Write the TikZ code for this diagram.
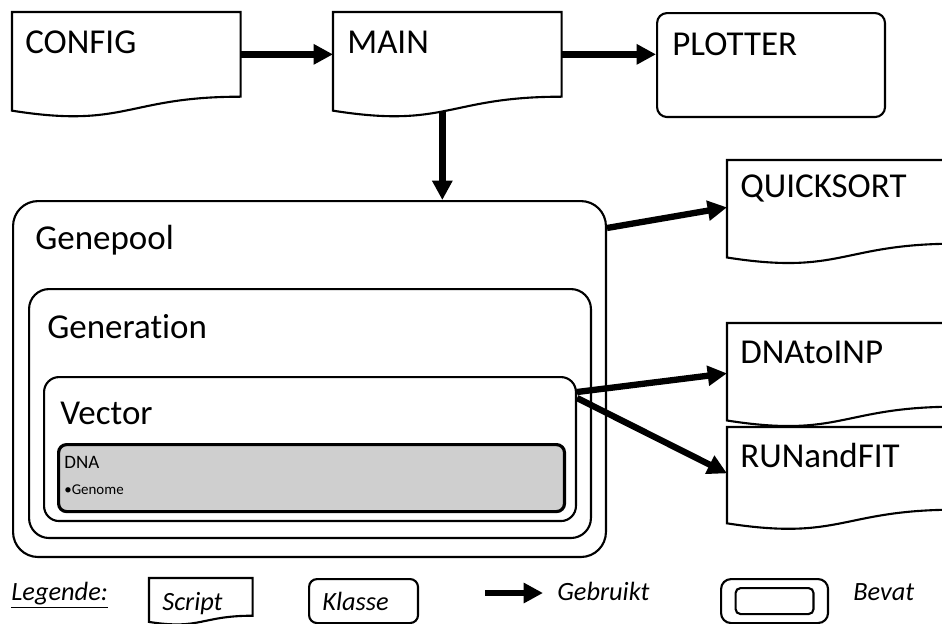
\documentclass[tikz,border=0pt]{standalone}
\usepackage{fontspec}
\setmainfont{Carlito}[Ligatures=NoCommon]
\usetikzlibrary{arrows.meta,calc}

\newcommand{\biglabel}{\fontsize{19.9pt}{23pt}\selectfont}
\newcommand{\leglabel}{\fontsize{15pt}{17pt}\selectfont\itshape}

\tikzset{
  outline/.style={line width=1.2pt},
  scriptbox/.style={anchor=north west,inner sep=0pt,minimum width=4.56cm},
  klassebox/.style={draw,outline,rounded corners=0.2cm,anchor=north west,inner sep=0pt},
  uses/.style={line width=3.6pt,-{Triangle[length=11pt,width=11pt]}},
  lbl/.style={anchor=base west,inner sep=0pt,font=\biglabel},
  legtext/.style={anchor=base west,inner sep=0pt,font=\leglabel},
}

\newcommand{\scriptshape}[1]{%
  \draw[outline] (#1.north west) -- (#1.north east) -- (#1.south east)
    .. controls (#1.south) and ($(#1.south)!0.38!180:(#1.north)$)
    .. ($(#1.south west)!0.165!180:(#1.north west)$) -- cycle;
}

\begin{document}
\begin{tikzpicture}[x=0.02cm,y=-0.02cm]
\useasboundingbox (0,0) rectangle (942,623);
\clip (0,0) rectangle (942,623);

\node[scriptbox,minimum height=1.68cm] (config) at (12,12) {};
\node[scriptbox,minimum height=1.68cm] (main) at (333,12) {};
\node[klassebox,minimum width=4.56cm,minimum height=2.08cm] (plotter) at (656,12) {};
\node[scriptbox,minimum height=1.66cm] (quicksort) at (727,160) {};
\node[scriptbox,minimum height=1.66cm] (dnatoinp) at (727,323) {};
\node[scriptbox,minimum height=1.64cm] (runandfit) at (727,427) {};
\scriptshape{config}
\scriptshape{main}
\scriptshape{quicksort}
\scriptshape{dnatoinp}
\scriptshape{runandfit}

\node[lbl] (configlbl) at (25,53) {CONFIG};
\node[lbl] (mainlbl) at (347,53) {MAIN};
\node[lbl] (plotterlbl) at (672,55) {PLOTTER};
\node[lbl] (quicksortlbl) at (740,197) {QUICKSORT};
\node[lbl] (dnatoinplbl) at (740,363) {DNAtoINP};
\node[lbl] (runandfitlbl) at (740,467) {RUNandFIT};

\node[klassebox,rounded corners=0.5cm,minimum width=11.86cm,minimum height=7.12cm] (genepool) at (12,200) {};
\node[klassebox,rounded corners=0.4cm,minimum width=11.24cm,minimum height=4.98cm] (generation) at (28,288) {};
\node[klassebox,rounded corners=0.3cm,minimum width=10.64cm,minimum height=2.88cm] (vector) at (43,376) {};
\node[klassebox,fill=black!19,line width=1.8pt,rounded corners=0.16cm,minimum width=10.12cm,minimum height=1.34cm] (dna) at (57,443) {};

\node[lbl] (genepoollbl) at (35,249) {Genepool};
\node[lbl] (generationlbl) at (47,338) {Generation};
\node[lbl] (vectorlbl) at (60,424) {Vector};
\node[anchor=base west,inner sep=0pt,font=\fontsize{10.8pt}{13pt}\selectfont] (dnalbl) at (64,468) {DNA};
\node[anchor=base west,inner sep=0pt,font=\fontsize{8.5pt}{10pt}\selectfont] (genomelbl) at (64,494) {\textbullet Genome};

\draw[uses] (config.east) -- (main.west);
\draw[uses] (main.east) -- (main.east -| plotter.west);
\draw[uses] ([xshift=-0.1cm,yshift=-0.28cm]main.south) -- ([xshift=-0.1cm]main.south |- genepool.north);
\draw[uses] ([yshift=-0.56cm]genepool.north east) -- ([yshift=-0.11cm]quicksort.west);
\draw[uses] ([yshift=-0.32cm]vector.north east) -- ([yshift=-0.17cm]dnatoinp.west);
\draw[uses] ([yshift=-0.44cm]vector.north east) -- ([yshift=-0.1cm]runandfit.west);

\node[legtext] (legende) at (11,600) {\underline{Legende:}};
\node[scriptbox,minimum width=2.06cm,minimum height=0.74cm] (legscript) at (149,578) {};
\scriptshape{legscript}
\node[legtext] (legscriptlbl) at (162,610) {Script};
\node[klassebox,rounded corners=0.16cm,minimum width=2.18cm,minimum height=0.88cm] (legklasse) at (308,578) {};
\node[legtext] (legklasselbl) at (322,610) {Klasse};
\coordinate (legarrow) at (485,593);
\node[legtext] (gebruikt) at (557,600) {Gebruikt};
\draw[uses,shorten >=0.28cm] (legarrow) -- (legarrow -| gebruikt.west);
\node[klassebox,minimum width=2.14cm,minimum height=0.88cm] (legbevat) at (720,578) {};
\node[klassebox,anchor=center,rounded corners=0.1cm,minimum width=1.56cm,minimum height=0.52cm] (legbevatin) at (legbevat.center) {};
\node[legtext] (bevat) at (853,600) {Bevat};
\end{tikzpicture}
\end{document}
